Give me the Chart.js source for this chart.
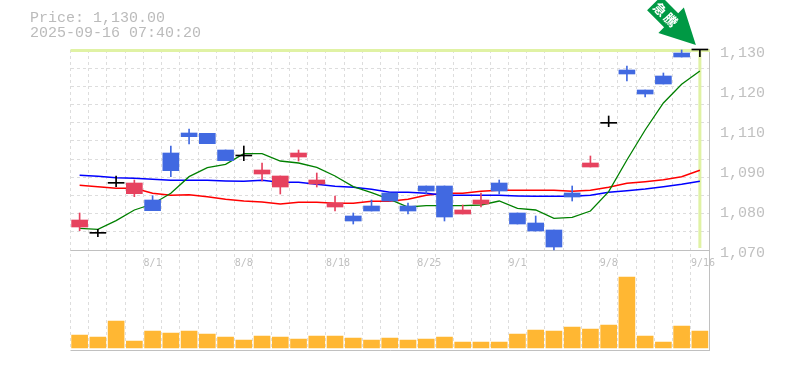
<!DOCTYPE html>
<html>
<head>
<meta charset="utf-8">
<style>
  body { margin: 0; background: #fff; }
  #wrap { position: relative; width: 785px; height: 370px; overflow: hidden; }
  #info { position: absolute; left: 30px; top: 11px; font: 15px/15px "Liberation Mono", monospace; color: #bbb; white-space: pre; }
</style>
<script src="https://cdn.jsdelivr.net/npm/chart.js@4"></script>
</head>
<body>
<div id="wrap">
  <div id="info">Price: 1,130.00
2025-09-16 07:40:20</div>
  <canvas id="myChart" width="785" height="370"></canvas>
</div>
<script>
const dates = ['7/28','7/29','7/30','7/31','8/1','8/4','8/5','8/6','8/7','8/8','8/12','8/13','8/14','8/15','8/18','8/19','8/20','8/21','8/22','8/25','8/26','8/27','8/28','8/29','9/1','9/2','9/3','9/4','9/5','9/8','9/9','9/10','9/11','9/12','9/16'];
const dateTicks = ['8/1','8/8','8/18','8/25','9/1','9/8','9/16'];

const open  = [1076.9,1075,1090,1086.9,1085,1099.1,1105.1,1105,1100,1098.2,1092.8,1088.9,1097.9,1089.8,1082.9,1080.2,1083.2,1087.1,1083.2,1089.2,1089.2,1080.8,1083.8,1090.1,1081.1,1078.1,1076,1087.1,1094.9,1108,1124,1118,1122.2,1129.1,1130];
const close = [1079,1075,1090,1090.1,1081.8,1093.8,1104,1101.9,1096.8,1098.2,1094,1092.2,1099.1,1091,1084.1,1078.7,1081.7,1084.7,1081.7,1087.7,1079.9,1082,1085,1087.7,1077.8,1075.7,1070.9,1085.9,1096.1,1108,1122.8,1116.8,1119.8,1127.9,1130];
const high  = [1081.1,1076.2,1092.2,1091,1086.3,1101.2,1106.3,1105,1100,1101.2,1096.1,1092.2,1100,1093.1,1086.2,1081.1,1085,1087.1,1084.1,1089.2,1089.2,1083.5,1087.1,1091,1081.1,1080.2,1076,1089.2,1098.2,1110.2,1125.2,1118,1123.1,1130,1130];
const low   = [1075.8,1074,1089,1086,1081.8,1092,1101.8,1101.9,1096.8,1096.8,1090.7,1086.8,1096.7,1088.9,1081.7,1077.8,1081.7,1084.7,1080.8,1086.8,1078.7,1080.8,1082.9,1086.8,1077.8,1075.7,1070,1084.7,1094.9,1107,1120.7,1115.9,1119.8,1127.9,1128];

const maGreen = [1076.5,1076.2,1078.8,1082,1083.8,1087,1092,1094.7,1095.7,1098.9,1098.9,1096.7,1096.1,1094.8,1092.2,1089,1087.2,1085.2,1082.9,1083.3,1083.3,1083.3,1083.5,1084.7,1082.5,1082,1079.5,1079.8,1081.7,1087.5,1097,1106,1114.1,1119.7,1123.7];
const maBlue  = [1092.4,1092.1,1091.7,1091.5,1091.2,1090.9,1090.9,1090.9,1090.7,1090.6,1090.9,1090.3,1090.3,1089.7,1089.1,1088.8,1088.2,1087.3,1087.3,1087,1086.4,1086.4,1086.4,1086.4,1086.2,1086.1,1086.1,1086.1,1086.4,1087.3,1087.8,1088.3,1089,1089.7,1090.6];
const maRed   = [1089.4,1089,1088.5,1088.5,1087,1086.4,1086.6,1086,1085.2,1084.7,1084.4,1083.8,1084.3,1084.3,1084,1084,1084.6,1084.6,1085.2,1086.4,1087,1087,1087.6,1087.9,1087.9,1087.9,1087.9,1087.6,1087.9,1088.8,1090,1090.5,1091.1,1092,1093.9];

const volume = [13,11,27,7,17,15,17,14,11,8,12,11,9,12,12,10,8,10,8,9,11,6,6,6,14,18,17,21,19,23,71,12,6,22,17];

const priceTicks = [1130,1118,1106,1094,1082,1070];
const priceLabels = ['1,130','1,120','1,110','1,090','1,080','1,070'];
const gridDivisions = 11;
const lastPrice = 1130;
const badge = '急騰';

const candleColor = close.map((c, i) => c === open[i] ? '#000000' : c > open[i] ? '#e6425e' : '#4169e1');

const frame = {
    id: 'frame',
    // panel lines and the lime "current price" cross
    beforeDatasetsDraw(chart) {
        const { ctx, chartArea: a, scales } = chart;
        const right = a.right + 1;
        const lastX = scales.x.getPixelForValue(dates.length - 1);
        const topY = scales.y.getPixelForValue(lastPrice);
        const midY = scales.y.getPixelForValue(1070);
        ctx.save();
        ctx.strokeStyle = '#c0c0c0';
        ctx.lineWidth = 1;
        ctx.beginPath();
        ctx.moveTo(a.left, midY + 0.5); ctx.lineTo(right, midY + 0.5);
        ctx.moveTo(a.left, a.bottom + 0.5); ctx.lineTo(right, a.bottom + 0.5);
        ctx.moveTo(right - 0.5, a.top); ctx.lineTo(right - 0.5, a.bottom);
        ctx.stroke();
        ctx.strokeStyle = '#e0f2a4';
        ctx.lineWidth = 3;
        ctx.beginPath();
        ctx.moveTo(a.left, topY + 0.5); ctx.lineTo(right, topY + 0.5);
        ctx.moveTo(lastX, topY); ctx.lineTo(lastX, midY - 2);
        ctx.stroke();
        ctx.restore();
    },
    afterDraw(chart) {
        const { ctx, scales } = chart;
        const tipX = scales.x.getPixelForValue(dates.length - 1) - 4;
        const tipY = scales.y.getPixelForValue(lastPrice) - 5;
        ctx.save();
        ctx.translate(tipX, tipY);
        ctx.rotate(Math.PI / 4);
        ctx.fillStyle = '#009944';
        ctx.beginPath();
        ctx.moveTo(0, 0);
        ctx.lineTo(-35, -18);
        ctx.lineTo(-35, -10);
        ctx.lineTo(-59, -10);
        ctx.lineTo(-59, 10);
        ctx.lineTo(-35, 10);
        ctx.lineTo(-35, 18);
        ctx.closePath();
        ctx.fill();
        ctx.fillStyle = '#fff';
        ctx.font = 'bold 13px "Noto Sans CJK JP"';
        ctx.letterSpacing = '2px';
        ctx.textAlign = 'center';
        ctx.textBaseline = 'middle';
        ctx.fillText(badge, -42, 0);
        ctx.restore();
    }
};

const ctx = document.getElementById('myChart').getContext('2d');
const myChart = new Chart(ctx, {
    data: {
        labels: dates,
        datasets: [
            { type: 'bar', data: open.map((o, i) => [o, close[i]]), backgroundColor: candleColor, barThickness: 16, minBarLength: 1, clip: false, yAxisID: 'y', order: 1 },
            { type: 'bar', data: low.map((l, i) => [l, high[i]]), backgroundColor: candleColor, barThickness: 1, clip: false, yAxisID: 'y', order: 2 },
            { type: 'line', data: maGreen, borderColor: '#008000', borderWidth: 1.3, pointRadius: 0, yAxisID: 'y', order: 3 },
            { type: 'line', data: maBlue, borderColor: '#0000ff', borderWidth: 1.5, pointRadius: 0, yAxisID: 'y', order: 4 },
            { type: 'line', data: maRed, borderColor: '#ff0000', borderWidth: 1.5, pointRadius: 0, yAxisID: 'y', order: 5 },
            { type: 'bar', data: volume, backgroundColor: '#ffb733', barThickness: 16, yAxisID: 'vol', order: 6 }
        ]
    },
    options: {
        responsive: false,
        animation: false,
        events: [],
        layout: { padding: { left: 70.5, top: 50 } },
        datasets: { bar: { grouped: false } },
        plugins: { legend: { display: false }, tooltip: { enabled: false } },
        scales: {
            x: {
                offset: true,
                grid: { offset: true, color: '#dddddd', drawTicks: false },
                border: { display: false, dash: [3, 3] },
                afterFit(scale) {
                    scale.height = 20;
                    scale.paddingLeft = 0;
                    scale.paddingRight = 0;
                },
                ticks: {
                    autoSkip: false,
                    maxRotation: 0,
                    mirror: true,
                    align: 'start',
                    labelOffset: -9,
                    padding: 81,
                    color: '#c0c0c0',
                    font: { family: '"DejaVu Sans Mono"', size: 10 },
                    callback(v, i) { return dateTicks.includes(dates[i]) ? dates[i] : ''; }
                }
            },
            y: {
                position: 'left',
                min: 1040,
                max: 1130,
                afterBuildTicks(scale) {
                    const step = (1130 - 1070) / gridDivisions;
                    scale.ticks = [];
                    for (let i = 1; i < gridDivisions; i++) scale.ticks.push({ value: 1070 + i * step });
                },
                afterFit(scale) { scale.width = 0; },
                grid: { color: '#dddddd', drawTicks: false },
                border: { display: false, dash: [3, 3] },
                ticks: { display: false }
            },
            priceAxis: {
                position: 'right',
                min: 1040,
                max: 1130,
                afterBuildTicks(scale) { scale.ticks = priceTicks.map(v => ({ value: v })); },
                afterFit(scale) { scale.width = 76; },
                grid: { display: false, drawTicks: false },
                border: { display: false },
                ticks: {
                    padding: 11,
                    labelOffset: 3,
                    color: '#c0c0c0',
                    font: { family: '"Liberation Mono"', size: 15 },
                    callback(v) { return priceLabels[priceTicks.indexOf(v)]; }
                }
            },
            vol: { display: false, min: -2, max: 298 }
        }
    },
    plugins: [frame]
});
</script>
</body>
</html>
